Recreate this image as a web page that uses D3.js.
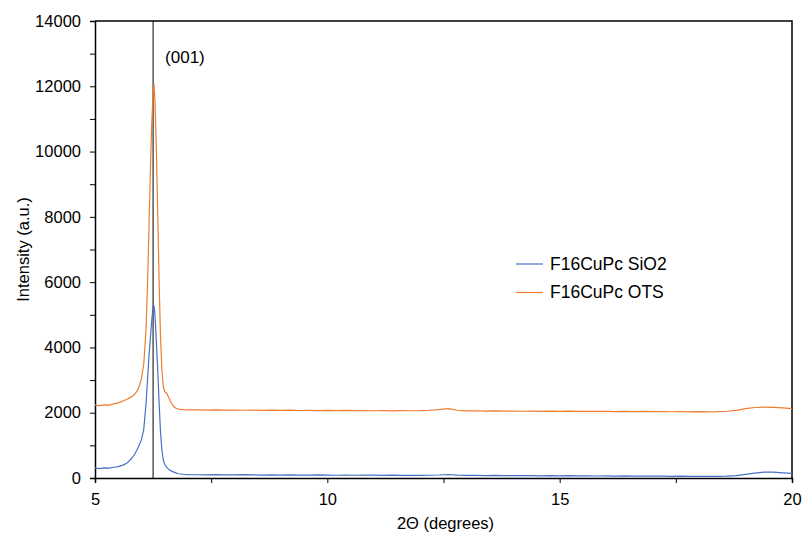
<!DOCTYPE html>
<html>
<head>
<meta charset="utf-8">
<script src="https://cdn.jsdelivr.net/npm/d3@7"></script>
<style>
  body { margin: 0; background: #fff; }
  svg { display: block; font-family: "Liberation Sans", Arial, sans-serif; }
</style>
</head>
<body>
<svg id="chart" width="806" height="537"></svg>
<script>
// XRD scans, intensity vs 2θ
const sio2Points = [
  [5.00, 300], [5.10, 290], [5.20, 310], [5.30, 305], [5.40, 330], [5.50, 350],
  [5.60, 395], [5.70, 470], [5.80, 620], [5.85, 720], [5.90, 850], [5.95, 1000],
  [6.00, 1180], [6.05, 1500], [6.10, 2300], [6.13, 3000], [6.16, 3700], [6.19, 4250],
  [6.22, 4800], [6.25, 5250], [6.27, 5280], [6.29, 5000], [6.32, 4200], [6.35, 3300],
  [6.38, 2300], [6.41, 1400], [6.44, 850], [6.47, 550], [6.50, 420], [6.55, 320],
  [6.60, 250], [6.65, 210], [6.70, 180], [6.75, 150], [6.80, 130], [6.90, 115], [7.00, 105],
  [7.2, 100], [7.4, 96], [7.6, 104], [7.8, 98], [8.0, 93], [8.2, 101], [8.4, 95], [8.6, 90],
  [8.8, 97], [9.0, 88], [9.2, 94], [9.4, 91], [9.6, 86], [9.8, 93], [10.0, 89], [10.2, 85],
  [10.4, 91], [10.6, 84], [10.8, 89], [11.0, 86], [11.2, 82], [11.4, 87], [11.6, 83], [11.8, 85],
  [12.0, 80], [12.2, 84], [12.4, 92], [12.6, 108], [12.8, 88],
  [13.0, 78], [13.2, 82], [13.4, 75], [13.6, 79], [13.8, 73], [14.0, 77], [14.2, 70], [14.4, 74],
  [14.6, 68], [14.8, 72], [15.0, 66], [15.2, 70], [15.4, 64], [15.6, 68], [15.8, 62], [16.0, 65],
  [16.2, 60], [16.4, 63], [16.6, 57], [16.8, 61], [17.0, 55], [17.2, 58], [17.4, 52], [17.6, 56],
  [17.8, 50], [18.0, 54], [18.2, 48], [18.4, 52], [18.6, 55],
  [18.8, 75], [19.0, 110], [19.2, 150], [19.4, 178], [19.6, 182], [19.8, 160], [20.0, 140]
];

const otsPoints = [
  [5.00, 2230], [5.10, 2215], [5.20, 2240], [5.30, 2235], [5.40, 2270], [5.50, 2300],
  [5.60, 2360], [5.70, 2420], [5.80, 2500], [5.85, 2560], [5.90, 2650], [5.95, 2800],
  [6.00, 3050], [6.05, 3500], [6.10, 4600], [6.13, 5900], [6.16, 7600], [6.19, 9300],
  [6.22, 10800], [6.25, 11800], [6.27, 12050], [6.29, 11600], [6.32, 10100], [6.35, 8100],
  [6.38, 6000], [6.41, 4300], [6.44, 3300], [6.47, 2800], [6.50, 2650], [6.55, 2580],
  [6.60, 2420], [6.65, 2280], [6.70, 2180], [6.75, 2130], [6.80, 2110], [6.90, 2095], [7.00, 2090],
  [7.2, 2085], [7.4, 2080], [7.6, 2088], [7.8, 2078], [8.0, 2083], [8.2, 2075], [8.4, 2082], [8.6, 2070],
  [8.8, 2079], [9.0, 2072], [9.2, 2077], [9.4, 2068], [9.6, 2074], [9.8, 2066], [10.0, 2073], [10.2, 2065],
  [10.4, 2070], [10.6, 2062], [10.8, 2068], [11.0, 2060], [11.2, 2066], [11.4, 2058], [11.6, 2064], [11.8, 2060],
  [12.0, 2062], [12.2, 2075], [12.4, 2095], [12.6, 2125], [12.8, 2075],
  [13.0, 2055], [13.2, 2060], [13.4, 2050], [13.6, 2056], [13.8, 2048], [14.0, 2053], [14.2, 2045], [14.4, 2051],
  [14.6, 2043], [14.8, 2049], [15.0, 2041], [15.2, 2047], [15.4, 2040], [15.6, 2045], [15.8, 2038], [16.0, 2043],
  [16.2, 2036], [16.4, 2041], [16.6, 2034], [16.8, 2039], [17.0, 2032], [17.2, 2037], [17.4, 2030], [17.6, 2035],
  [17.8, 2028], [18.0, 2033], [18.2, 2027], [18.4, 2032], [18.6, 2045],
  [18.8, 2070], [19.0, 2125], [19.2, 2160], [19.4, 2172], [19.6, 2165], [19.8, 2150], [20.0, 2125]
];

const seriesNames = ["F16CuPc SiO2", "F16CuPc OTS"];
const seriesColors = ["#4472C4", "#ED7D31"];
const yTicks = [0, 2000, 4000, 6000, 8000, 10000, 12000, 14000];
const xTicks = [5, 10, 15, 20];
const peakPosition = 6.25;
const peakLabel = "(001)";

const margin = { left: 95, right: 14, top: 21, bottom: 59 };
const width = 806, height = 537;

const svg = d3.select("#chart");

const x = d3.scaleLinear().domain([5, 20]).range([margin.left, width - margin.right]);
const y = d3.scaleLinear().domain([0, 14000]).range([height - margin.bottom, margin.top]);

// frame (top + right)
svg.append("path")
  .attr("d", `M${x(5)},${y(14000)}H${x(20)}V${y(0)}`)
  .attr("fill", "none")
  .attr("stroke", "#000")
  .attr("stroke-width", 1.5);

// y axis, minor ticks every 1000
const yAxis = svg.append("g").attr("transform", `translate(${x(5)},0)`);
yAxis.call(d3.axisLeft(y).tickValues(d3.range(0, 14001, 1000)).tickSize(5)
  .tickFormat(d => yTicks.includes(d) ? d : ""));
yAxis.select(".domain").attr("stroke-width", 1.5);
yAxis.selectAll("text").attr("font-size", 16.5).attr("fill", "#000").attr("x", -14);

// x axis, minor ticks every 2.5
const xAxis = svg.append("g").attr("transform", `translate(0,${y(0)})`);
xAxis.call(d3.axisBottom(x).tickValues(d3.range(5, 20.01, 2.5)).tickSize(5)
  .tickFormat(d => xTicks.includes(d) ? d : ""));
xAxis.select(".domain").attr("stroke-width", 1.5);
xAxis.selectAll("text").attr("font-size", 16.5).attr("fill", "#000").attr("y", 15);

// peak marker
svg.append("line")
  .attr("x1", x(peakPosition)).attr("x2", x(peakPosition))
  .attr("y1", y(14000)).attr("y2", y(0))
  .attr("stroke", "#000").attr("stroke-width", 1);

svg.append("text")
  .attr("x", x(peakPosition) + 12).attr("y", 63)
  .attr("font-size", 17)
  .text(peakLabel);

const line = d3.line().x(d => x(d[0])).y(d => y(d[1]));

[sio2Points, otsPoints].forEach((pts, i) => {
  svg.append("path")
    .datum(pts)
    .attr("fill", "none")
    .attr("stroke", seriesColors[i])
    .attr("stroke-width", 1.2)
    .attr("stroke-linejoin", "round")
    .attr("d", line);
});

// legend
const legend = svg.append("g").attr("transform", "translate(516,264)");
seriesNames.forEach((name, i) => {
  const g = legend.append("g").attr("transform", `translate(0,${i * 28.5})`);
  g.append("line").attr("x1", 0).attr("x2", 27).attr("y1", 0).attr("y2", 0)
    .attr("stroke", seriesColors[i]).attr("stroke-width", 1.2);
  g.append("text").attr("x", 34).attr("y", 5.5).attr("font-size", 17.5).text(name);
});

// axis titles
svg.append("text")
  .attr("transform", `translate(29,${(y(0) + y(14000)) / 2}) rotate(-90)`)
  .attr("text-anchor", "middle")
  .attr("font-size", 16.5)
  .text("Intensity (a.u.)");

svg.append("text")
  .attr("x", (x(5) + x(20)) / 2 + 2).attr("y", 529)
  .attr("text-anchor", "middle")
  .attr("font-size", 16.5)
  .text("2Θ (degrees)");
</script>
</body>
</html>
